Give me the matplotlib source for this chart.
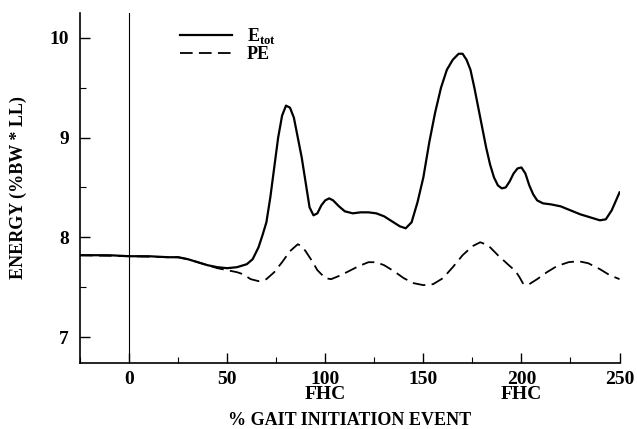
import matplotlib
matplotlib.use("Agg")
import matplotlib.pyplot as plt
from matplotlib.ticker import MultipleLocator

plt.rcParams['font.family'] = ['Liberation Serif', 'DejaVu Serif']
plt.rcParams['font.weight'] = 'bold'
plt.rcParams['mathtext.fontset'] = 'custom'
plt.rcParams['mathtext.rm'] = 'Liberation Serif:bold'
plt.rcParams['mathtext.bf'] = 'Liberation Serif:bold'

# total energy (solid)
etot_x = [-25, -10, 0, 10, 20, 25, 30, 35, 40, 45, 50, 55, 60, 63, 66, 68, 70, 72, 74, 76,
          78, 80, 82, 84, 86, 88, 90, 92, 94, 96, 98, 100, 102, 104, 107, 110, 114, 118, 122,
          126, 130, 134, 138, 141, 144, 147, 150, 153, 156, 159, 162, 165, 168, 170, 172, 174,
          176, 178, 180, 182, 184, 186, 188, 190, 192, 194, 196, 198, 200, 202, 204, 206, 208,
          211, 215, 220, 225, 230, 235, 240, 243, 246, 250]
etot_y = [7.82, 7.82, 7.81, 7.81, 7.80, 7.80, 7.78, 7.75, 7.72, 7.70, 7.69, 7.70, 7.73, 7.78,
          7.90, 8.02, 8.15, 8.40, 8.70, 9.00, 9.22, 9.32, 9.30, 9.20, 9.00, 8.80, 8.55, 8.30,
          8.22, 8.24, 8.32, 8.37, 8.39, 8.37, 8.31, 8.26, 8.24, 8.25, 8.25, 8.24, 8.21, 8.16,
          8.11, 8.09, 8.15, 8.35, 8.60, 8.95, 9.25, 9.50, 9.68, 9.78, 9.84, 9.84, 9.78, 9.68,
          9.50, 9.30, 9.10, 8.90, 8.73, 8.60, 8.52, 8.49, 8.50, 8.56, 8.64, 8.69, 8.70, 8.64,
          8.52, 8.43, 8.37, 8.34, 8.33, 8.31, 8.27, 8.23, 8.20, 8.17, 8.18, 8.27, 8.45]

# potential energy (dashed)
pe_x = [-25, 0, 20, 25, 30, 35, 40, 45, 50, 55, 58, 62, 66, 70, 74, 78, 82, 86, 88, 90, 93,
        96, 100, 103, 108, 112, 117, 122, 126, 130, 135, 140, 145, 150, 155, 160, 165, 170,
        175, 179, 183, 188, 193, 197, 199, 201, 204, 208, 213, 218, 224, 229, 234, 240, 245, 250]
pe_y = [7.82, 7.81, 7.80, 7.80, 7.78, 7.75, 7.72, 7.69, 7.67, 7.65, 7.63, 7.58, 7.56, 7.58,
        7.65, 7.75, 7.86, 7.93, 7.91, 7.86, 7.77, 7.67, 7.59, 7.58, 7.62, 7.66, 7.71, 7.75,
        7.75, 7.72, 7.66, 7.59, 7.54, 7.52, 7.53, 7.59, 7.70, 7.82, 7.91, 7.95, 7.92, 7.82,
        7.73, 7.66, 7.60, 7.53, 7.53, 7.58, 7.65, 7.71, 7.75, 7.76, 7.74, 7.68, 7.62, 7.58]

xticks = [0, 50, 100, 150, 200, 250]
xticklabels = ['0', '50', '100\nFHC', '150', '200\nFHC', '250']
yticks = [7, 8, 9, 10]

fig = plt.figure(figsize=(6.37, 4.29), dpi=100)
ax = fig.add_axes([0.1256, 0.154, 0.847, 0.816])

ax.plot(etot_x, etot_y, color='black', lw=1.6, label=r'E$_{\mathrm{tot}}$')
ax.plot(pe_x, pe_y, color='black', lw=1.3, dashes=(7, 3.5), label='PE')
ax.axvline(0, color='black', lw=0.8)

ax.set_xlim(-25, 250)
ax.set_ylim(6.74, 10.25)
ax.spines['top'].set_visible(False)
ax.spines['right'].set_visible(False)
ax.spines['left'].set_linewidth(1.2)
ax.spines['bottom'].set_linewidth(1.2)

ax.set_xticks(xticks)
ax.set_xticklabels(xticklabels, linespacing=0.85)
ax.set_yticks(yticks)
ax.xaxis.set_minor_locator(MultipleLocator(25))
ax.yaxis.set_minor_locator(MultipleLocator(0.5))
ax.tick_params(which='major', direction='in', length=7, width=1, labelsize=14, pad=6)
ax.tick_params(axis='y', which='major', pad=8)
ax.tick_params(which='minor', direction='in', length=4, width=0.8)
for lbl in ax.get_xticklabels() + ax.get_yticklabels():
    lbl.set_fontweight('bold')

ax.set_xlabel('% GAIT INITIATION EVENT', fontsize=13, fontweight='bold', labelpad=6)
ax.set_ylabel('ENERGY (%BW * LL)', fontsize=13, fontweight='bold', labelpad=16)

ax.legend(loc='upper left', bbox_to_anchor=(0.16, 1.0), frameon=False, fontsize=13,
          handlelength=2.9, handletextpad=0.8, labelspacing=0.0, borderaxespad=0.35)

fig.savefig('out.png', dpi=100)
